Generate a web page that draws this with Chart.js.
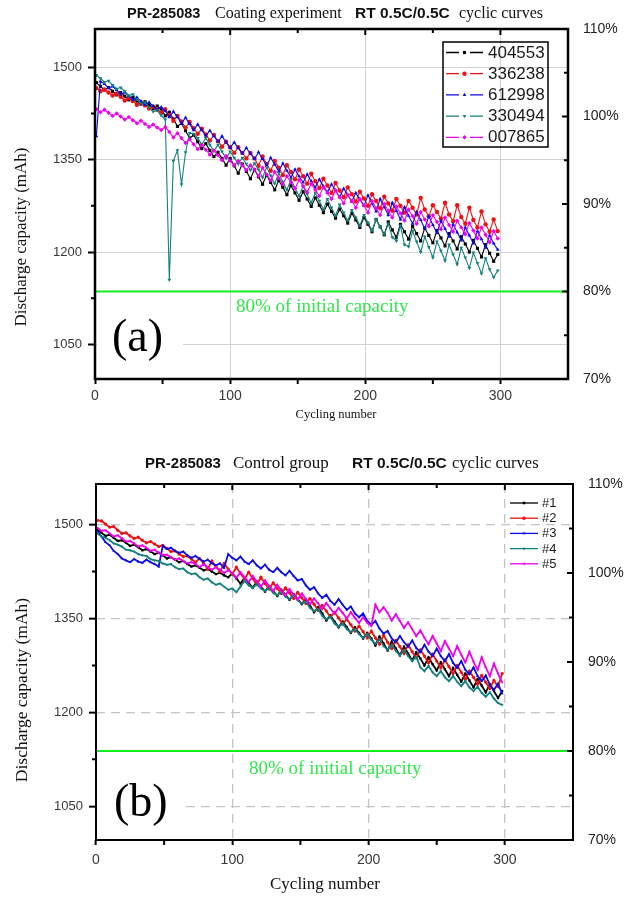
<!DOCTYPE html>
<html><head><meta charset="utf-8">
<script src="https://cdn.jsdelivr.net/npm/chart.js@4.4.0/dist/chart.umd.min.js"></script>
<style>
html,body{margin:0;padding:0;background:#fff;width:626px;height:901px;overflow:hidden}
canvas{display:block;position:absolute;left:0}
#ca{top:0}
#cb{top:440px}
</style></head><body>
<canvas id="ca" width="626" height="440"></canvas>
<canvas id="cb" width="626" height="461"></canvas>
<script>
// ---------- DATA ----------
const cycles = [1,4,7,10,13,16,19,22,25,28,31,34,37,40,43,46,49,52,55,58,61,64,67,70,73,76,79,82,85,88,91,94,97,100,103,106,109,112,115,118,121,124,127,130,133,136,139,142,145,148,151,154,157,160,163,166,169,172,175,178,181,184,187,190,193,196,199,202,205,208,211,214,217,220,223,226,229,232,235,238,241,244,247,250,253,256,259,262,265,268,271,274,277,280,283,286,289,292,295,298];

// (a) Coating experiment, discharge capacity (mAh)
const capA_404553 = [1475,1469,1463,1467,1461,1455,1459,1453,1447,1451,1445,1440,1444,1439,1433,1437,1432,1421,1427,1416,1404,1409,1397,1385,1390,1379,1368,1376,1365,1355,1362,1352,1341,1352,1340,1328,1343,1331,1319,1334,1322,1310,1325,1313,1301,1316,1305,1293,1308,1296,1284,1298,1286,1274,1288,1276,1264,1278,1266,1255,1270,1259,1247,1263,1252,1240,1256,1245,1233,1253,1241,1228,1249,1236,1224,1245,1233,1221,1242,1230,1218,1239,1227,1215,1235,1223,1210,1230,1218,1205,1225,1213,1200,1219,1206,1192,1212,1198,1185,1196];
const capA_336238 = [1466,1461,1464,1459,1454,1457,1452,1446,1450,1445,1439,1443,1438,1433,1436,1431,1426,1432,1422,1413,1421,1412,1402,1411,1401,1392,1400,1391,1381,1390,1380,1371,1379,1370,1361,1370,1361,1352,1361,1352,1340,1355,1343,1332,1348,1337,1325,1341,1330,1318,1334,1323,1311,1327,1315,1304,1319,1308,1296,1312,1300,1289,1305,1294,1282,1298,1287,1275,1294,1283,1271,1290,1279,1267,1286,1275,1264,1283,1272,1261,1288,1269,1258,1276,1265,1254,1280,1261,1250,1276,1257,1246,1272,1252,1240,1266,1245,1233,1253,1234];
const capA_612998 = [1388,1477,1473,1466,1469,1463,1456,1459,1453,1447,1451,1445,1439,1443,1437,1431,1435,1429,1419,1428,1419,1409,1418,1408,1398,1407,1398,1389,1397,1388,1379,1388,1378,1369,1378,1369,1360,1369,1360,1351,1362,1351,1340,1353,1342,1331,1344,1332,1321,1334,1323,1313,1326,1315,1305,1318,1307,1297,1310,1300,1289,1303,1293,1282,1296,1285,1275,1292,1279,1266,1286,1273,1260,1280,1267,1253,1273,1259,1246,1265,1252,1238,1258,1244,1231,1251,1238,1225,1245,1232,1219,1240,1227,1214,1234,1221,1207,1227,1214,1204];
const capA_330494 = [1487,1482,1476,1478,1471,1465,1467,1461,1454,1456,1448,1441,1443,1435,1428,1430,1422,1415,1155,1348,1365,1310,1362,1393,1392,1385,1375,1385,1374,1364,1374,1363,1352,1363,1353,1343,1353,1343,1333,1344,1334,1321,1338,1324,1311,1328,1314,1301,1318,1304,1291,1307,1294,1280,1296,1283,1269,1286,1272,1259,1277,1264,1251,1268,1256,1243,1260,1248,1235,1253,1241,1229,1246,1224,1218,1243,1212,1209,1234,1217,1200,1225,1208,1191,1217,1202,1186,1212,1196,1180,1207,1191,1174,1199,1182,1165,1190,1172,1159,1170];
const capA_007865 = [1432,1427,1431,1426,1421,1425,1420,1415,1419,1414,1409,1413,1408,1403,1407,1402,1398,1403,1395,1386,1393,1385,1377,1383,1375,1367,1374,1366,1358,1365,1357,1349,1356,1348,1341,1348,1341,1333,1341,1334,1323,1337,1326,1316,1330,1320,1310,1323,1313,1303,1317,1307,1297,1311,1301,1291,1305,1296,1286,1300,1289,1279,1293,1283,1272,1286,1276,1264,1283,1271,1260,1278,1267,1256,1274,1263,1251,1269,1258,1246,1265,1253,1242,1260,1249,1237,1256,1244,1233,1251,1240,1229,1247,1235,1222,1240,1228,1216,1234,1222];

// (b) Control group, discharge capacity (mAh)
const capB_1 = [1492,1487,1482,1484,1479,1474,1475,1471,1466,1468,1464,1459,1461,1457,1453,1455,1451,1446,1448,1444,1440,1442,1437,1433,1435,1431,1427,1429,1425,1421,1423,1419,1416,1422,1414,1406,1415,1407,1399,1409,1401,1393,1402,1394,1386,1396,1388,1380,1389,1381,1373,1381,1371,1360,1368,1358,1347,1355,1345,1336,1345,1336,1327,1336,1327,1318,1327,1318,1307,1321,1310,1299,1313,1302,1291,1305,1294,1283,1296,1286,1275,1288,1277,1267,1280,1269,1258,1271,1260,1249,1262,1251,1240,1253,1243,1232,1245,1234,1223,1234];
const capB_2 = [1507,1506,1501,1496,1497,1491,1486,1487,1482,1478,1480,1475,1471,1473,1469,1465,1467,1462,1457,1458,1453,1449,1450,1445,1440,1446,1438,1429,1442,1433,1425,1438,1429,1421,1432,1422,1413,1424,1414,1404,1416,1406,1397,1407,1398,1390,1399,1391,1382,1392,1383,1374,1382,1373,1363,1371,1362,1352,1360,1351,1341,1349,1340,1330,1338,1329,1319,1330,1319,1309,1323,1312,1302,1315,1305,1294,1308,1297,1287,1300,1290,1279,1293,1282,1271,1284,1273,1262,1275,1264,1253,1266,1256,1245,1259,1248,1238,1251,1241,1262];
const capB_3 = [1490,1481,1472,1467,1458,1453,1446,1443,1440,1445,1441,1439,1444,1440,1437,1433,1466,1461,1463,1458,1455,1457,1451,1447,1450,1445,1441,1444,1438,1435,1438,1431,1453,1447,1443,1449,1441,1437,1443,1435,1430,1436,1428,1424,1431,1424,1419,1426,1418,1411,1413,1403,1396,1400,1390,1383,1388,1378,1372,1381,1372,1364,1369,1358,1352,1358,1346,1340,1346,1334,1326,1330,1318,1312,1322,1312,1305,1315,1303,1296,1308,1297,1290,1302,1290,1282,1293,1279,1271,1282,1268,1261,1272,1258,1250,1259,1244,1236,1246,1230];
const capB_4 = [1486,1481,1479,1475,1470,1468,1465,1460,1459,1457,1453,1451,1450,1445,1443,1442,1438,1436,1437,1432,1429,1430,1424,1421,1422,1416,1412,1414,1408,1404,1406,1401,1396,1398,1392,1401,1410,1403,1399,1405,1398,1394,1399,1391,1387,1393,1385,1381,1388,1379,1374,1377,1367,1362,1365,1354,1349,1353,1342,1337,1342,1333,1328,1333,1325,1319,1325,1316,1310,1317,1306,1300,1308,1298,1291,1300,1290,1282,1289,1272,1266,1274,1264,1258,1266,1256,1250,1258,1249,1242,1250,1240,1234,1241,1231,1225,1232,1222,1215,1212];
const capB_5 = [1495,1490,1491,1486,1481,1483,1478,1473,1474,1470,1465,1467,1463,1458,1460,1455,1451,1452,1448,1444,1446,1442,1438,1440,1437,1432,1437,1432,1428,1432,1428,1423,1427,1423,1415,1424,1416,1408,1418,1409,1401,1411,1402,1394,1404,1395,1387,1397,1388,1380,1390,1381,1373,1382,1374,1365,1375,1366,1358,1367,1359,1350,1360,1351,1343,1352,1343,1338,1372,1360,1368,1359,1347,1357,1346,1335,1344,1333,1322,1331,1319,1309,1322,1310,1298,1314,1302,1290,1306,1292,1280,1297,1281,1268,1288,1272,1258,1278,1262,1248];

const namesA = ['404553','336238','612998','330494','007865'];
const namesB = ['#1','#2','#3','#4','#5'];
const leftTicks = [1050,1200,1350,1500];
const leftMinorTicks = [1125,1275,1425];
const rightTicks = [70,80,90,100,110];
const rightAllTicks = [75,80,85,90,95,100,105];
const xTicks = [0,100,200,300];
const xMinorTicks = [50,150,250];
const xTopTicks = [50,100,150,200,250,300];
const thresholdX = [0,350];
const thresholdPct = [80,80];

// ---------- STYLES ----------
const colors = ['#000000','#ee1111','#0a0ae6','#138080','#ee00ee'];
const stylesA = [{ps:'rect',rot:0},{ps:'circle',rot:0},{ps:'triangle',rot:0},{ps:'triangle',rot:180},{ps:'rectRot',rot:0}];
const stylesB = [{ps:'rect',rot:0},{ps:'circle',rot:0},{ps:'triangle',rot:0},{ps:'triangle',rot:180},{ps:'triangle',rot:270}];
const SANS = '"Liberation Sans", Arial, sans-serif';
const SERIF = '"Liberation Serif", "Times New Roman", serif';

function mk(vals, i, st, lw, pr, name) {
  return {
    label: name,
    data: cycles.map((c, k) => ({x: c, y: vals[k]})),
    borderColor: colors[i], backgroundColor: colors[i],
    borderWidth: lw, pointRadius: pr, pointStyle: st.ps, pointRotation: st.rot,
    pointBorderWidth: 0, pointHoverRadius: pr, tension: 0, yAxisID: 'y', order: 10 - i
  };
}
function threshold() {
  return {label: 'thr', data: thresholdX.map((x, k) => ({x, y: thresholdPct[k]})), yAxisID: 'y2',
    borderColor: '#12ee1e', borderWidth: 2, pointRadius: 0, order: 20};
}

function drawDecor(chart, cfg, phase) {
  const ctx = chart.ctx, a = chart.chartArea;
  const sx = chart.scales.x, sy = chart.scales.y, sr = chart.scales.y2;
  ctx.save();
  if (phase === 'before') {
    const b = cfg.letterBox;
    ctx.fillStyle = '#fff'; ctx.fillRect(b[0], b[1], b[2], b[3]);
    ctx.fillStyle = '#000'; ctx.font = cfg.letterFont; ctx.textBaseline = 'middle'; ctx.textAlign = 'left';
    ctx.fillText(cfg.letter, cfg.letterPos[0], cfg.letterPos[1]);
    ctx.fillStyle = '#2fe84a'; ctx.font = cfg.noteFont;
    ctx.fillText('80% of initial capacity', cfg.notePos[0], cfg.notePos[1]);
  } else {
    ctx.strokeStyle = '#000'; ctx.lineWidth = 2; ctx.setLineDash([]);
    ctx.beginPath();
    xTopTicks.forEach(v => { const p = sx.getPixelForValue(v); ctx.moveTo(p, a.top); ctx.lineTo(p, a.top + (v % 100 === 0 ? 6 : 4)); });
    xMinorTicks.forEach(v => { const p = sx.getPixelForValue(v); ctx.moveTo(p, a.bottom); ctx.lineTo(p, a.bottom + 5); });
    leftMinorTicks.forEach(v => { const p = sy.getPixelForValue(v); ctx.moveTo(a.left, p); ctx.lineTo(a.left - 4, p); });
    rightAllTicks.forEach(v => { const p = sr.getPixelForValue(v); ctx.moveTo(a.right, p); ctx.lineTo(a.right - (v % 10 === 0 ? 6 : 4), p); });
    ctx.stroke();
    ctx.lineWidth = cfg.frameWidth;
    ctx.strokeRect(a.left, a.top, a.right - a.left, a.bottom - a.top);
    // legend
    const L = cfg.legend;
    if (L.box) { ctx.lineWidth = 1.5; ctx.strokeRect(L.box[0], L.box[1], L.box[2], L.box[3]); }
    const dsets = chart.data.datasets.filter(d => d.label !== 'thr');
    dsets.forEach((d, i) => {
      const y = L.y0 + i * L.dy;
      ctx.strokeStyle = d.borderColor; ctx.fillStyle = d.borderColor; ctx.lineWidth = L.lw;
      ctx.beginPath();
      if (L.dashed) {
        ctx.moveTo(L.x1, y); ctx.lineTo(L.xm - 5.5, y);
        ctx.moveTo(L.xm + 5.5, y); ctx.lineTo(L.x2, y);
      } else { ctx.moveTo(L.x1, y); ctx.lineTo(L.x2, y); }
      ctx.stroke();
      Chart.helpers.drawPoint(ctx, {pointStyle: d.pointStyle, rotation: d.pointRotation, radius: L.pr, borderWidth: 0}, L.xm, y);
      ctx.fillStyle = '#1a1a1a'; ctx.font = L.font; ctx.textAlign = 'left'; ctx.textBaseline = 'middle';
      ctx.fillText(d.label, L.tx, y + 0.5);
    });
    // titles
    ctx.fillStyle = '#111'; ctx.textBaseline = 'middle'; ctx.textAlign = 'left';
    cfg.title.forEach(s => { ctx.font = s.f; ctx.fillText(s.t, s.x, cfg.titleY); });
    ctx.font = cfg.xTitleFont; ctx.textAlign = 'center';
    ctx.fillText('Cycling number', cfg.xTitlePos[0], cfg.xTitlePos[1]);
    ctx.translate(cfg.yTitlePos[0], cfg.yTitlePos[1]); ctx.rotate(-Math.PI / 2);
    ctx.font = cfg.yTitleFont; ctx.fillText('Discharge capacity (mAh)', 0, 0);
  }
  ctx.restore();
}

function decorPlugin(cfg) {
  return {
    id: 'decor',
    beforeDatasetsDraw(chart) { drawDecor(chart, cfg, 'before'); },
    afterDatasetsDraw(chart) { drawDecor(chart, cfg, 'after'); }
  };
}

function scalesFor(o) {
  return {
    x: {type: 'linear', min: 0, max: 350,
      afterBuildTicks: s => { s.ticks = xTicks.map(v => ({value: v})); },
      afterFit: s => { s.height = o.xh; },
      grid: {color: c => (c.tick && c.tick.value === 0) ? 'rgba(0,0,0,0)' : o.gridColor, lineWidth: o.gridW,
        tickColor: '#000', tickLength: 5, tickWidth: 2},
      border: {display: false, dash: o.dash},
      ticks: {padding: o.xpad, maxRotation: 0, autoSkip: false, color: '#383838', font: {family: SANS, size: 14},
        callback: v => String(v)}},
    y: {type: 'linear', position: 'left', min: o.ymin, max: o.ymax,
      afterBuildTicks: s => { s.ticks = leftTicks.map(v => ({value: v})); },
      afterFit: s => { s.width = o.lw; },
      grid: {color: o.gridColor, lineWidth: o.gridW, tickColor: '#000', tickLength: 7, tickWidth: 2},
      border: {display: false, dash: o.dash},
      ticks: {padding: 6, color: '#383838', font: {family: SANS, size: 13}, callback: v => String(v)}},
    y2: {type: 'linear', position: 'right', min: 70, max: 110,
      afterBuildTicks: s => { s.ticks = rightTicks.map(v => ({value: v})); },
      afterFit: s => { s.width = o.rw; },
      grid: {display: false, drawOnChartArea: false, drawTicks: false, tickLength: 0},
      border: {display: false},
      ticks: {padding: 15, callback: v => v + '%', color: '#222', font: {family: SANS, size: o.rsize}}}
  };
}

// ---------- CHART (a) ----------
const valsA = [capA_404553, capA_336238, capA_612998, capA_330494, capA_007865];
new Chart(document.getElementById('ca'), {
  type: 'line',
  data: {datasets: valsA.map((v, i) => mk(v, i, stylesA[i], 1.1, 2.2, namesA[i])).concat([threshold()])},
  options: {
    responsive: false, animation: false, devicePixelRatio: 1,
    layout: {padding: {top: 29, left: 0, right: 0, bottom: 0}},
    plugins: {legend: {display: false}, tooltip: {enabled: false}},
    scales: scalesFor({xh: 61, lw: 95, rw: 58, ymin: 994, ymax: 1562, gridColor: '#d2d2d2', gridW: 1, dash: [], xpad: 4, rsize: 14})
  },
  plugins: [decorPlugin({
    letter: '(a)', letterFont: '46px ' + SERIF, letterPos: [112, 339], letterBox: [97, 311, 86, 56],
    noteFont: '19px ' + SERIF, notePos: [236, 307],
    frameWidth: 2.5,
    legend: {box: [443, 42, 105, 105], y0: 52.5, dy: 21.2, x1: 446, x2: 483, xm: 464.5, tx: 488, lw: 1.3, pr: 2.2, dashed: true, font: '17px ' + SANS},
    titleY: 14,
    title: [{t: 'PR-285083', x: 127, f: 'bold 14.5px ' + SANS}, {t: 'Coating experiment', x: 215, f: '16px ' + SERIF},
            {t: 'RT 0.5C/0.5C', x: 355, f: 'bold 15.5px ' + SANS}, {t: 'cyclic curves', x: 459, f: '16px ' + SERIF}],
    xTitleFont: '12.5px ' + SERIF, xTitlePos: [336, 415],
    yTitleFont: '17px ' + SERIF, yTitlePos: [22, 237]
  })]
});

// ---------- CHART (b) ----------
const valsB = [capB_1, capB_2, capB_3, capB_4, capB_5];
new Chart(document.getElementById('cb'), {
  type: 'line',
  data: {datasets: valsB.map((v, i) => mk(v, i, stylesB[i], 1.8, 1.6, namesB[i])).concat([threshold()])},
  options: {
    responsive: false, animation: false, devicePixelRatio: 1,
    layout: {padding: {top: 44, left: 0, right: 0, bottom: 0}},
    plugins: {legend: {display: false}, tooltip: {enabled: false}},
    scales: scalesFor({xh: 61, lw: 96, rw: 53, ymin: 996, ymax: 1565, gridColor: '#c4c4c4', gridW: 1.3, dash: [9, 6], xpad: 7, rsize: 14})
  },
  plugins: [decorPlugin({
    letter: '(b)', letterFont: '46px ' + SERIF, letterPos: [114, 364], letterBox: [97, 338, 88, 55],
    noteFont: '19px ' + SERIF, notePos: [249, 329],
    frameWidth: 2,
    legend: {box: null, y0: 63, dy: 15.2, x1: 510, x2: 538, xm: 524, tx: 542, lw: 1.3, pr: 1.8, dashed: false, font: '13px ' + SANS},
    titleY: 24,
    title: [{t: 'PR-285083', x: 145, f: 'bold 15px ' + SANS}, {t: 'Control group', x: 233, f: '17px ' + SERIF},
            {t: 'RT 0.5C/0.5C', x: 352, f: 'bold 15.5px ' + SANS}, {t: 'cyclic curves', x: 452, f: '16.5px ' + SERIF}],
    xTitleFont: '17px ' + SERIF, xTitlePos: [325, 445],
    yTitleFont: '17.5px ' + SERIF, yTitlePos: [22, 250]
  })]
});
</script>
</body></html>
